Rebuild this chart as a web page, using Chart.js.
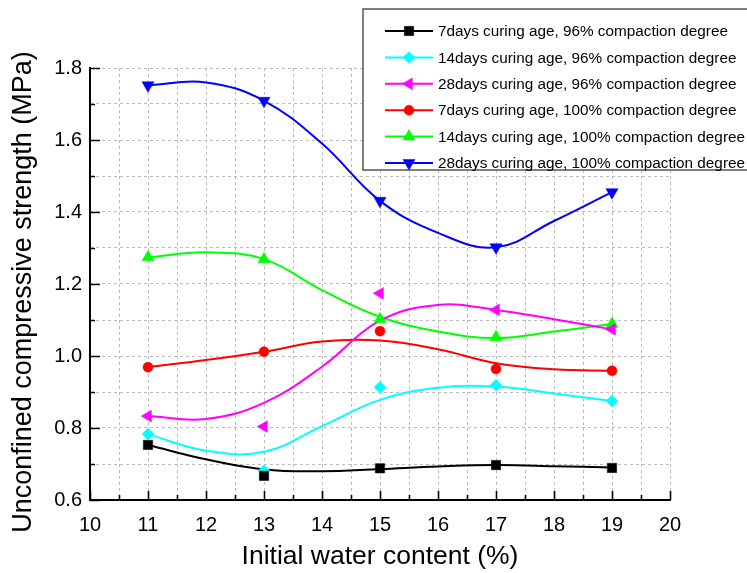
<!DOCTYPE html>
<html>
<head>
<meta charset="utf-8">
<script src="https://cdn.jsdelivr.net/npm/chart.js@4/dist/chart.umd.min.js"></script>
<style>
  html, body { margin: 0; padding: 0; background: #fff; }
  canvas { display: block; }
</style>
</head>
<body>
<canvas id="chart" width="747" height="573"></canvas>
<script>
// Initial water content (%) of the tested specimens
const waterContent = [11, 13, 15, 17, 19];

// Measured unconfined compressive strength (MPa)
const ucs7d96   = [0.753, 0.667, 0.688, 0.697, 0.689];
const ucs14d96  = [0.783, 0.681, 0.913, 0.919, 0.875];
const ucs28d96  = [0.833, 0.804, 1.174, 1.128, 1.074];
const ucs7d100  = [0.969, 1.012, 1.069, 0.964, 0.959];
const ucs14d100 = [1.274, 1.269, 1.102, 1.052, 1.089];
const ucs28d100 = [1.752, 1.709, 1.431, 1.302, 1.455];

// Smoothed trend curves, sampled at whole-percent water contents
const trendX = [11, 12, 13, 14, 15, 16, 17, 18, 19];
const trend7d96   = [0.753, 0.713, 0.685, 0.680, 0.686, 0.693, 0.697, 0.694, 0.690];
const trend14d96  = [0.783, 0.737, 0.734, 0.805, 0.878, 0.912, 0.915, 0.896, 0.875];
const trend28d96  = [0.833, 0.825, 0.870, 0.970, 1.098, 1.142, 1.128, 1.102, 1.074];
const trend7d100  = [0.969, 0.989, 1.012, 1.040, 1.043, 1.019, 0.980, 0.963, 0.959];
const trend14d100 = [1.274, 1.288, 1.269, 1.183, 1.109, 1.068, 1.050, 1.068, 1.089];
const trend28d100 = [1.752, 1.760, 1.709, 1.590, 1.431, 1.342, 1.302, 1.375, 1.455];

const seriesNames = [
  '7days curing age, 96% compaction degree',
  '14days curing age, 96% compaction degree',
  '28days curing age, 96% compaction degree',
  '7days curing age, 100% compaction degree',
  '14days curing age, 100% compaction degree',
  '28days curing age, 100% compaction degree'
];

const xTitle = 'Initial water content (%)';
const yTitle = 'Unconfined compressive strength (MPa)';

// Appearance
const seriesColors = ['#000000', '#00FFFF', '#FF00FF', '#FF0000', '#00FF00', '#0000FF'];
const markerStyles = [
  { pointStyle: 'rect',     radius: 6.6, rotation: 0 },
  { pointStyle: 'rectRot',  radius: 6,   rotation: 0 },
  { pointStyle: 'triangle', radius: 6.8, rotation: 270 },
  { pointStyle: 'circle',   radius: 5,   rotation: 0 },
  { pointStyle: 'triangle', radius: 7,   rotation: 0 },
  { pointStyle: 'triangle', radius: 7,   rotation: 180 }
];

const measured = [ucs7d96, ucs14d96, ucs28d96, ucs7d100, ucs14d100, ucs28d100];
const trends = [trend7d96, trend14d96, trend28d96, trend7d100, trend14d100, trend28d100];

const FONT = "'Liberation Sans', Arial, 'DejaVu Sans', sans-serif";

const datasets = [];
measured.forEach((vals, i) => {
  const m = markerStyles[i];
  datasets.push({
    label: seriesNames[i],
    data: waterContent.map((x, k) => ({ x, y: vals[k] })),
    showLine: false,
    pointStyle: m.pointStyle,
    pointRadius: m.radius,
    pointRotation: m.rotation,
    pointBackgroundColor: seriesColors[i],
    pointBorderColor: seriesColors[i],
    pointBorderWidth: 0.5,
    order: 1
  });
});
trends.forEach((vals, i) => {
  datasets.push({
    label: seriesNames[i] + ' (trend)',
    data: trendX.map((x, k) => ({ x, y: vals[k] })),
    showLine: true,
    tension: 0.4,
    borderColor: seriesColors[i],
    borderWidth: 2,
    pointRadius: 0,
    order: 2
  });
});

// Black axis lines with inward major/minor tick marks, plus the vertical axis title
const axesPlugin = {
  id: 'axesInward',
  beforeDatasetsDraw(chart) {
    const { ctx, chartArea: a, scales: { x, y } } = chart;
    ctx.save();
    ctx.strokeStyle = '#000';
    ctx.lineWidth = 1.6;
    ctx.beginPath();
    x.ticks.forEach(t => {
      const px = Math.round(x.getPixelForValue(t.value)) + 0.5;
      const len = Math.round(t.value * 2) % 2 === 0 ? 9 : 5;
      ctx.moveTo(px, a.bottom);
      ctx.lineTo(px, a.bottom - len);
    });
    y.ticks.forEach(t => {
      const py = Math.round(y.getPixelForValue(t.value)) + 0.5;
      const len = Math.round(t.value * 10) % 2 === 0 ? 10 : 5;
      ctx.moveTo(a.left, py);
      ctx.lineTo(a.left + len, py);
    });
    ctx.stroke();
    ctx.lineWidth = 2;
    ctx.lineCap = 'square';
    ctx.beginPath();
    ctx.moveTo(a.left, a.top);
    ctx.lineTo(a.left, a.bottom);
    ctx.lineTo(a.right, a.bottom);
    ctx.stroke();

    ctx.translate(24, 292);
    ctx.rotate(-Math.PI / 2);
    ctx.fillStyle = '#000';
    ctx.font = '27px ' + FONT;
    ctx.textAlign = 'center';
    ctx.textBaseline = 'middle';
    ctx.fillText(yTitle, 0, 0);
    ctx.restore();
  }
};

// Framed legend in the upper-right corner
const legendPlugin = {
  id: 'boxLegend',
  afterDraw(chart) {
    const { ctx } = chart;
    const boxX = 363, boxY = 9, boxW = 400, boxH = 161;
    const rowY0 = 31, rowStep = 26.4;
    ctx.save();
    ctx.fillStyle = '#fff';
    ctx.fillRect(boxX, boxY, boxW, boxH);
    ctx.strokeStyle = '#555';
    ctx.lineWidth = 1.5;
    ctx.strokeRect(boxX, boxY, boxW, boxH);
    ctx.font = '15.3px ' + FONT;
    ctx.textBaseline = 'middle';
    ctx.textAlign = 'left';
    seriesNames.forEach((name, i) => {
      const yy = rowY0 + i * rowStep;
      ctx.strokeStyle = seriesColors[i];
      ctx.lineWidth = 2;
      ctx.beginPath();
      ctx.moveTo(385, yy);
      ctx.lineTo(433, yy);
      ctx.stroke();
      const m = markerStyles[i];
      ctx.fillStyle = seriesColors[i];
      ctx.strokeStyle = seriesColors[i];
      ctx.lineWidth = 0.5;
      Chart.helpers.drawPoint(ctx, { pointStyle: m.pointStyle, radius: m.radius, rotation: m.rotation, borderWidth: 0.5 }, 409, yy);
      ctx.fillStyle = '#000';
      ctx.fillText(name, 438, yy + 1);
    });
    ctx.restore();
  }
};

new Chart(document.getElementById('chart'), {
  type: 'scatter',
  data: { datasets },
  options: {
    responsive: false,
    animation: false,
    layout: { padding: { top: 68, right: 77, left: 0, bottom: 0 } },
    plugins: { legend: { display: false }, tooltip: { enabled: false } },
    scales: {
      x: {
        type: 'linear',
        min: 10,
        max: 20,
        afterFit(s) { s.height = 73; },
        ticks: {
          stepSize: 0.5,
          autoSkip: false,
          maxRotation: 0,
          padding: 13,
          color: '#000',
          font: { family: FONT, size: 20 },
          callback: v => (Math.round(v * 2) % 2 === 0 ? String(Math.round(v)) : '')
        },
        grid: { color: '#bcbcbc', lineWidth: 1, drawTicks: false },
        border: { display: false, dash: [3, 3] },
        title: {
          display: true,
          text: xTitle,
          color: '#000',
          font: { family: FONT, size: 26.5 },
          padding: { top: 0, bottom: 0 }
        }
      },
      y: {
        type: 'linear',
        min: 0.6,
        max: 1.8,
        afterFit(s) { s.width = 90; },
        ticks: {
          stepSize: 0.1,
          autoSkip: false,
          padding: 8,
          color: '#000',
          font: { family: FONT, size: 20 },
          callback: v => {
            const r = Math.round(v * 10);
            return r % 2 === 0 ? (r / 10).toFixed(1) : '';
          }
        },
        grid: { color: '#bcbcbc', lineWidth: 1, drawTicks: false },
        border: { display: false, dash: [3, 3] }
      }
    }
  },
  plugins: [axesPlugin, legendPlugin]
});
</script>
</body>
</html>
